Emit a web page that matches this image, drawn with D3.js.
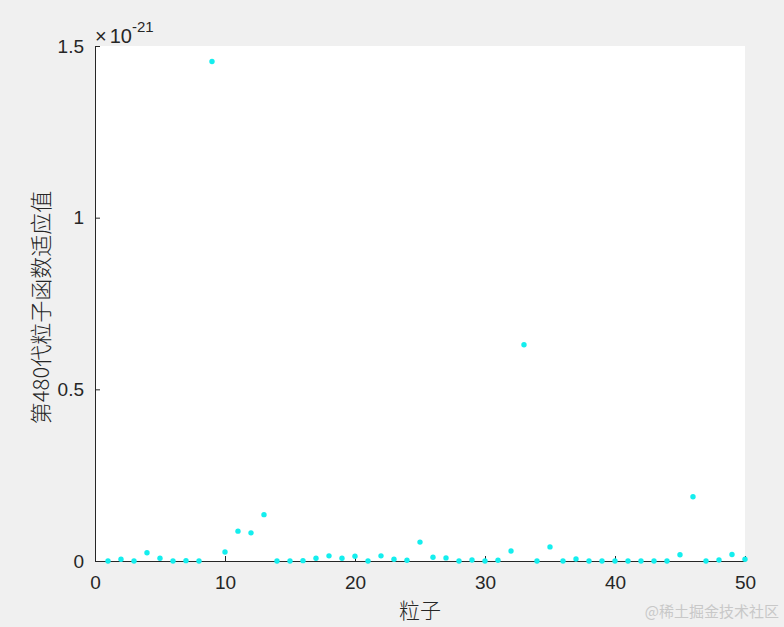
<!DOCTYPE html>
<html>
<head>
<meta charset="utf-8">
<script src="https://cdn.jsdelivr.net/npm/d3@7"></script>
<style>
  body { margin: 0; background: #f0f0f0; }
  svg { display: block; }
</style>
</head>
<body>
<div id="chart"></div>
<script>
// particle index 1..50
var particles = d3.range(1, 51);

// fitness values, in units of 1e-21
var fitness = [
    0, 0.005, 0, 0.024, 0.008, 0, 0.001, 0, 1.455, 0.026,
    0.087, 0.082, 0.135, 0, 0, 0.001, 0.008, 0.015, 0.008, 0.014,
    0, 0.015, 0.005, 0.002, 0.055, 0.011, 0.009, 0, 0.003, 0,
    0.002, 0.029, 0.630, 0, 0.041, 0, 0.006, 0, 0, 0,
    0, 0, 0, 0, 0.018, 0.187, 0, 0.003, 0.019, 0.005
];

var xTicks = [0, 10, 20, 30, 40, 50];
var yTicks = [0, 0.5, 1, 1.5];

var width = 784, height = 627;
var margin = {left: 95, right: 39, top: 46, bottom: 66};

var svg = d3.select('#chart').append('svg')
    .attr('width', width)
    .attr('height', height);

var x = d3.scaleLinear().domain([0, 50]).range([margin.left, width - margin.right]);
var y = d3.scaleLinear().domain([0, 1.5]).range([height - margin.bottom, margin.top]);

// white plot area
svg.append('rect')
    .attr('x', x(0)).attr('y', y(1.5))
    .attr('width', x(50) - x(0)).attr('height', y(0) - y(1.5))
    .attr('fill', '#fff');

var tickFont = '"Liberation Sans", Arial, sans-serif';

// x axis, ticks inward
var xAxis = svg.append('g')
    .attr('transform', 'translate(0,' + y(0) + ')')
    .call(d3.axisBottom(x).tickValues(xTicks).tickSize(-5).tickPadding(15).tickSizeOuter(0));

// y axis, ticks inward
var yAxis = svg.append('g')
    .attr('transform', 'translate(' + x(0) + ',0)')
    .call(d3.axisLeft(y).tickValues(yTicks).tickSize(-5).tickPadding(11).tickSizeOuter(0)
        .tickFormat(function(d){ return d == 0 ? '0' : String(d); }));

[xAxis, yAxis].forEach(function(g){
    g.select('.domain').attr('stroke', '#262626').attr('stroke-width', 1);
    g.selectAll('.tick line').attr('stroke', '#262626');
    g.selectAll('.tick text')
        .attr('fill', '#262626')
        .style('font-family', tickFont)
        .style('font-size', '19px');
});

// exponent label
var expo = svg.append('text')
    .attr('x', x(0))
    .attr('y', 43)
    .attr('fill', '#262626')
    .style('font-family', tickFont)
    .style('font-size', '20px');
expo.append('tspan').text('\u00d7');
expo.append('tspan').attr('dx', 3).text('10');
expo.append('tspan').attr('dy', -11).style('font-size', '15px').text('-21');

// points
svg.append('g')
    .selectAll('circle')
    .data(particles)
    .enter().append('circle')
        .attr('cx', function(d){ return x(d); })
        .attr('cy', function(d, i){ return y(fitness[i]); })
        .attr('r', 2.7)
        .attr('fill', '#14eeee');

var cjkFont = '"Noto Sans CJK SC", sans-serif';

// axis titles
svg.append('text')
    .attr('x', x(25))
    .attr('y', 618)
    .attr('text-anchor', 'middle')
    .attr('fill', '#262626')
    .style('font-family', cjkFont)
    .style('font-weight', 300)
    .style('font-size', '21px')
    .text('粒子');

svg.append('text')
    .attr('transform', 'translate(49,' + (y(0.75) + 4) + ') rotate(-90)')
    .attr('text-anchor', 'middle')
    .attr('fill', '#262626')
    .style('font-family', cjkFont)
    .style('font-weight', 300)
    .style('font-size', '22px')
    .text('第480代粒子函数适应值');

// watermark
svg.append('text')
    .attr('x', 779)
    .attr('y', 617)
    .attr('text-anchor', 'end')
    .attr('fill', '#c8c8c8')
    .style('font-family', cjkFont)
    .style('font-size', '15px')
    .text('@稀土掘金技术社区');
</script>
</body>
</html>
